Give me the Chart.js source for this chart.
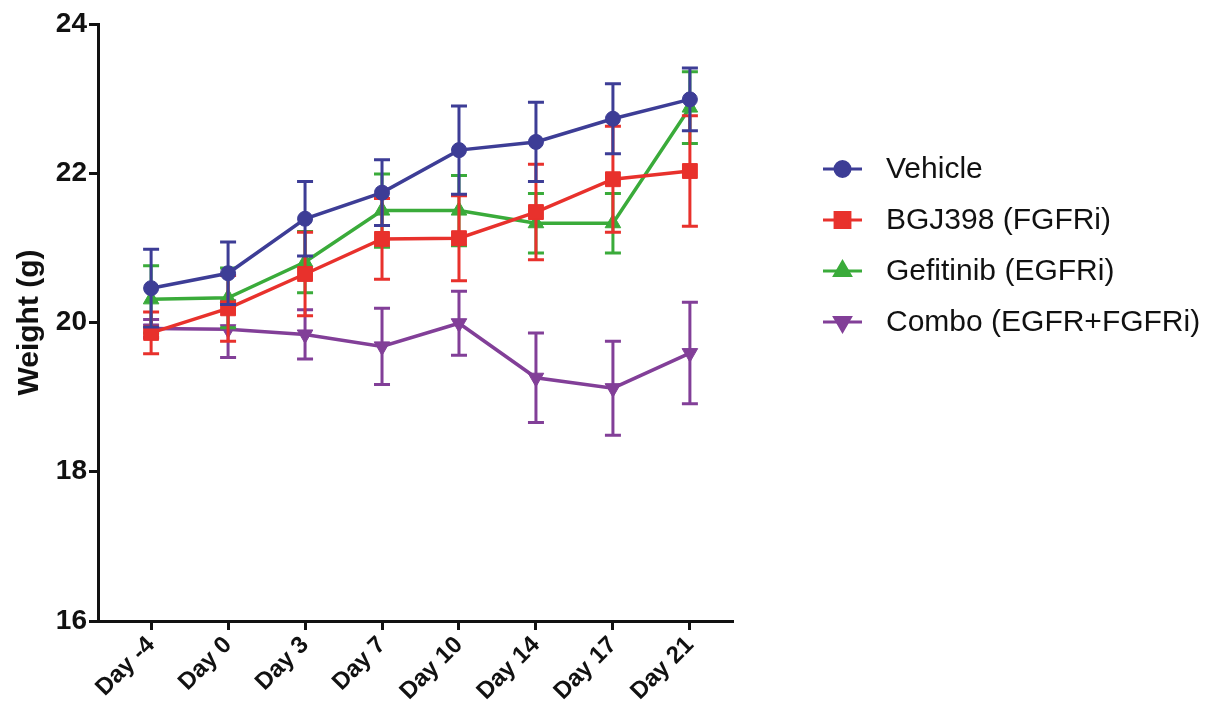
<!DOCTYPE html>
<html>
<head>
<meta charset="utf-8">
<title>Weight</title>
<script src="https://cdn.jsdelivr.net/npm/chart.js@4"></script>
<style>
  html, body { margin: 0; padding: 0; background: #fff; }
  #wrap { width: 1216px; height: 721px; }
</style>
</head>
<body>
<div id="wrap"><canvas id="weightChart" width="1216" height="721"></canvas></div>
<script>
const days = ['Day -4', 'Day 0', 'Day 3', 'Day 7', 'Day 10', 'Day 14', 'Day 17', 'Day 21'];
const yTicks = [16, 18, 20, 22, 24];

const groups = ['Vehicle', 'BGJ398 (FGFRi)', 'Gefitinib (EGFRi)', 'Combo (EGFR+FGFRi)'];
const vehicle = [20.46, 20.66, 21.39, 21.74, 22.31, 22.42, 22.73, 22.99];
const bgj398 = [19.86, 20.19, 20.65, 21.12, 21.13, 21.48, 21.92, 22.03];
const gefitinib = [20.31, 20.33, 20.81, 21.50, 21.50, 21.33, 21.33, 22.88];
const combo = [19.92, 19.91, 19.84, 19.68, 19.99, 19.26, 19.12, 19.59];

// SEM for each point
const vehicleErr = [0.52, 0.42, 0.50, 0.44, 0.59, 0.53, 0.47, 0.42];
const bgj398Err = [0.28, 0.44, 0.56, 0.54, 0.57, 0.64, 0.71, 0.74];
const gefitinibErr = [0.45, 0.40, 0.41, 0.49, 0.47, 0.40, 0.40, 0.48];
const comboErr = [0.12, 0.38, 0.33, 0.51, 0.43, 0.60, 0.63, 0.68];

const colors = ['#3d3d96', '#e8312c', '#3aab3a', '#823f98'];
const styles = [
  { pointStyle: 'circle', radius: 7.5, rotation: 0 },
  { pointStyle: 'rect', radius: 10.5, rotation: 0 },
  { pointStyle: 'triangle', radius: 9, rotation: 0 },
  { pointStyle: 'triangle', radius: 9, rotation: 180 }
];
const series = [vehicle, bgj398, gefitinib, combo];
const errs = [vehicleErr, bgj398Err, gefitinibErr, comboErr];

const FONT = '"Liberation Sans", Arial, sans-serif';

// mean +/- SEM bars, drawn just under each line
const errorBars = {
  id: 'errorBars',
  beforeDatasetDraw(chart, args) {
    const ctx = chart.ctx;
    const y = chart.scales.y;
    const e = errs[args.index];
    const vals = series[args.index];
    ctx.save();
    ctx.strokeStyle = colors[args.index];
    ctx.lineWidth = 3;
    args.meta.data.forEach((pt, i) => {
      const top = y.getPixelForValue(vals[i] + e[i]);
      const bot = y.getPixelForValue(vals[i] - e[i]);
      ctx.beginPath();
      ctx.moveTo(pt.x, top); ctx.lineTo(pt.x, bot);
      ctx.moveTo(pt.x - 8, top); ctx.lineTo(pt.x + 8, top);
      ctx.moveTo(pt.x - 8, bot); ctx.lineTo(pt.x + 8, bot);
      ctx.stroke();
    });
    ctx.restore();
  }
};

// legend on the right: line sample with marker, then the label
const sideLegend = {
  id: 'sideLegend',
  afterDraw(chart) {
    const ctx = chart.ctx;
    ctx.save();
    groups.forEach((name, i) => {
      const yy = 169 + i * 51;
      ctx.strokeStyle = colors[i];
      ctx.fillStyle = colors[i];
      ctx.lineWidth = 3;
      ctx.beginPath();
      ctx.moveTo(823, yy); ctx.lineTo(862, yy);
      ctx.stroke();
      Chart.helpers.drawPoint(ctx, { ...styles[i], borderWidth: 1 }, 842.5, yy);
      ctx.fillStyle = '#111';
      ctx.font = '30px ' + FONT;
      ctx.textBaseline = 'middle';
      ctx.fillText(name, 886, yy + 1);
    });
    ctx.restore();
  }
};

const datasets = groups.map((name, i) => ({
  label: name,
  data: series[i].map((v, k) => ({ x: k, y: v })),
  borderColor: colors[i],
  backgroundColor: colors[i],
  borderWidth: 3.5,
  pointStyle: styles[i].pointStyle,
  pointRadius: styles[i].radius,
  pointRotation: styles[i].rotation,
  pointBorderWidth: 1,
  tension: 0
}));

new Chart(document.getElementById('weightChart'), {
  type: 'line',
  data: { datasets },
  plugins: [errorBars, sideLegend],
  options: {
    responsive: false,
    animation: false,
    layout: { padding: { top: 24, right: 483, left: 0, bottom: 0 } },
    plugins: { legend: { display: false }, tooltip: { enabled: false } },
    scales: {
      x: {
        type: 'linear',
        min: -0.69,
        max: 7.56,
        afterBuildTicks(scale) {
          scale.ticks = days.map((d, i) => ({ value: i }));
        },
        afterFit(scale) { scale.height = 100; },
        border: { display: true, color: '#111', width: 3 },
        grid: { drawOnChartArea: false, drawTicks: true, tickLength: 9, tickWidth: 3, color: '#111' },
        ticks: {
          autoSkip: false,
          minRotation: 45,
          maxRotation: 45,
          padding: 1,
          color: '#111',
          font: { family: FONT, size: 24, weight: 'bold' },
          callback: (v) => days[v]
        }
      },
      y: {
        min: 16,
        max: 24,
        afterBuildTicks(scale) {
          scale.ticks = yTicks.map(v => ({ value: v }));
        },
        afterFit(scale) { scale.width = 98; },
        border: { display: true, color: '#111', width: 3 },
        grid: { drawOnChartArea: false, drawTicks: true, tickLength: 9, tickWidth: 3, color: '#111' },
        ticks: {
          padding: 2,
          color: '#111',
          font: { family: FONT, size: 28, weight: 'bold' }
        },
        title: {
          display: true,
          text: 'Weight (g)',
          color: '#111',
          padding: { top: 12, bottom: 0 },
          font: { family: FONT, size: 30, weight: 'bold' }
        }
      }
    }
  }
});
</script>
</body>
</html>
